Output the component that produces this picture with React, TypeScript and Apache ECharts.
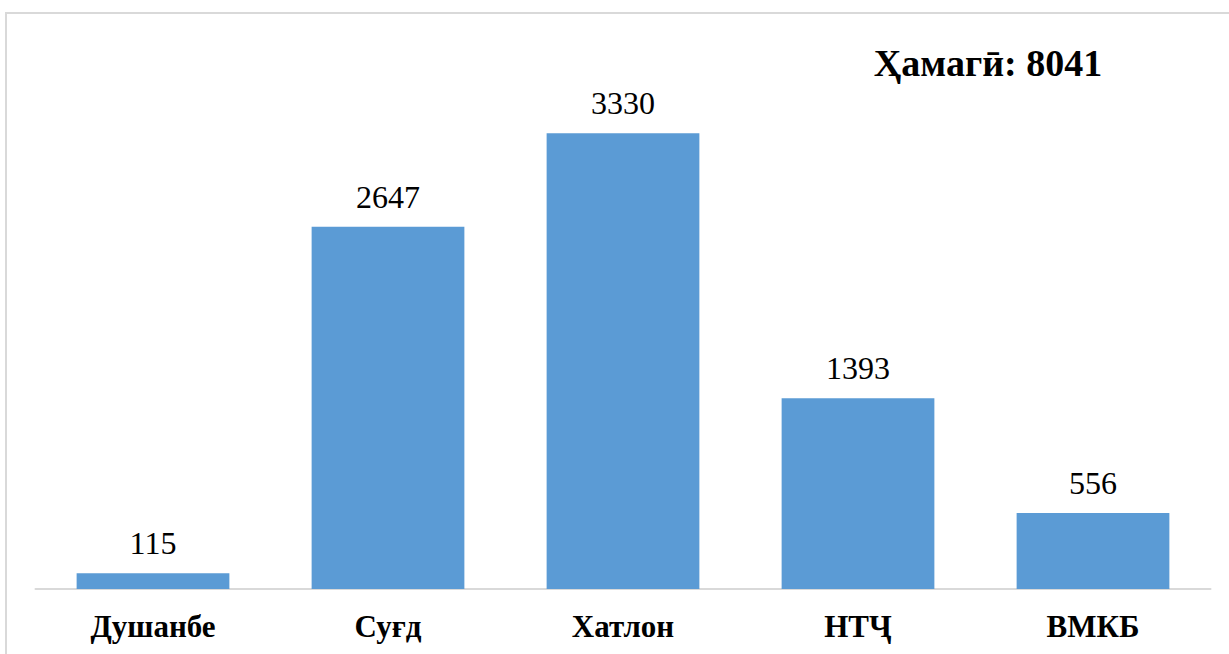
import React, { useEffect, useRef } from "react";
import * as echarts from "echarts";

const categories = ["Душанбе", "Суғд", "Хатлон", "НТҶ", "ВМКБ"];
const values = [115, 2647, 3330, 1393, 556];
const totalLabel = "Ҳамагӣ: 8041";

const FONT = "'Liberation Serif', 'Times New Roman', serif";

export default function App() {
  const ref = useRef<HTMLDivElement>(null);
  useEffect(() => {
    document.body.style.margin = "0";
    const chart = echarts.init(ref.current!, null, { renderer: "svg" });
    chart.setOption({
      animation: false,
      backgroundColor: "#ffffff",
      grid: { left: 35.5, right: 18.5, top: 110, bottom: 65 },
      xAxis: {
        type: "category",
        data: categories,
        axisLine: { show: true, lineStyle: { color: "#D9D9D9", width: 2 } },
        axisTick: { show: false },
        axisLabel: {
          color: "#000",
          fontFamily: FONT,
          fontWeight: "bold",
          fontSize: 31,
          margin: 22,
        },
      },
      yAxis: {
        type: "value",
        min: 0,
        max: 3500,
        show: false,
        splitLine: { show: false },
      },
      series: [
        {
          type: "bar",
          data: values,
          barCategoryGap: "35%",
          itemStyle: { color: "#5B9BD5" },
          label: {
            show: true,
            position: "top",
            distance: 14,
            color: "#000",
            fontFamily: FONT,
            fontSize: 32,
          },
        },
      ],
      graphic: [
        {
          type: "rect",
          shape: { x: 6, y: 13, width: 1400, height: 800 },
          style: { fill: "none", stroke: "#D9D9D9", lineWidth: 2 },
          silent: true,
        },
        {
          type: "text",
          x: 988,
          y: 63,
          style: {
            text: totalLabel,
            fill: "#000",
            font: `bold 38px ${FONT}`,
            textAlign: "center",
            textVerticalAlign: "middle",
          },
        },
      ],
    });
    return () => chart.dispose();
  }, []);
  return <div ref={ref} style={{ width: 1229, height: 654 }} />;
}
